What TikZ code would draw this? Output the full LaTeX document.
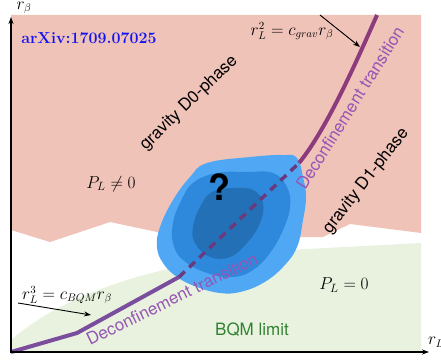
\documentclass[tikz,border=0pt]{standalone}
\usepackage{fontspec}
\setsansfont{TeX Gyre Heros}
\usetikzlibrary{arrows.meta}
\definecolor{pinkbg}{RGB}{240,195,185}
\definecolor{greenbg}{RGB}{232,242,223}
\definecolor{blobA}{RGB}{80,168,245}
\definecolor{blobB}{RGB}{46,137,220}
\definecolor{blobC}{RGB}{36,112,182}
\definecolor{lineup}{RGB}{140,59,124}
\definecolor{linelow}{RGB}{122,78,156}
\definecolor{linedash}{RGB}{107,58,126}
\definecolor{transtext}{RGB}{150,85,180}
\definecolor{bqmgreen}{RGB}{50,130,50}
\definecolor{arxivblue}{RGB}{20,20,240}
\tikzset{
  sflbl/.style={font=\sffamily\fontsize{17}{20}\selectfont, inner sep=0pt},
  mathlbl/.style={font=\fontsize{17}{20}\selectfont, inner sep=0pt},
  formlbl/.style={font=\fontsize{16}{19}\selectfont, inner sep=0pt},
  translbl/.style={sflbl, text=transtext},
  transline/.style={line width=4pt, line join=round},
  axisline/.style={line width=1.1pt, -{Stealth[length=7pt,width=5pt]}},
  pointer/.style={line width=0.9pt, -{Stealth[length=7pt,width=5pt]}},
}
\begin{document}
\begin{tikzpicture}[x=1pt,y=-1pt]
\useasboundingbox (0,0) rectangle (441,361);
% regions
\fill[pinkbg] (11,15) -- (421,15) -- (421,233) -- (350,224) -- (323,237) -- (287,237) -- (220,240) -- (157,232) -- (110,222) -- (50,242) -- (11,230) -- cycle;
\fill[greenbg] (11,352) -- (11,340) .. controls (60,298) and (140,265) .. (287,250) -- (421,243) -- (421,352) -- cycle;
% blob
\fill[blobA] plot[smooth cycle, tension=0.7] coordinates {(207,163) (250,157) (283,155) (297,158) (303,177) (306,197) (303,220) (297,247) (283,267) (263,283) (240,292) (220,293) (197,287) (177,277) (163,263) (157,247) (160,227) (173,200) (190,177)};
\fill[blobB] plot[smooth cycle, tension=0.7] coordinates {(193,183) (217,173) (247,172) (273,173) (287,187) (290,207) (283,230) (270,253) (253,270) (233,277) (207,273) (183,260) (173,243) (173,223) (180,203)};
\fill[blobC] plot[smooth cycle, tension=0.7] coordinates {(212,192) (233,188) (253,190) (263,203) (260,223) (247,243) (230,257) (210,257) (195,243) (193,227) (200,207)};
% transition line
\coordinate (o) at (11,352);
\coordinate (k) at (77,333);
\coordinate (bl) at (179,277);
\coordinate (bu) at (299,163);
\coordinate (top) at (377,15);
\draw[transline, linelow] (o) -- (k) -- (bl);
\draw[transline, linedash, line width=3.5pt, dash pattern=on 8pt off 6pt] (bl) -- (bu);
\draw[transline, lineup] (bu) .. controls (326,130) and (355,65) .. (top);
% axes
\coordinate (yend) at (11,17);
\coordinate (xend) at (429,352);
\coordinate (ybot) at (11,353);
\coordinate (xleft) at (10,352);
\draw[axisline] (ybot) -- (yend);
\draw[axisline] (xleft) -- (xend);
\node[formlbl] (ry) at (24,8) {$r_\beta$};
\node[formlbl] (rl) at (436,342) {$r_L$};
% labels
\node[font=\rmfamily\bfseries\fontsize{16}{19}\selectfont, text=arxivblue, inner sep=0pt] (arx) at (89,38) {arXiv:1709.07025};
\node[formlbl] (f1) at (292,31) {$r_L^2=c_{grav}r_\beta$};
\node[formlbl] (f2) at (67,295) {$r_L^3=c_{BQM}r_\beta$};
\coordinate (a1s) at (320,15);
\coordinate (a1e) at (360,47);
\coordinate (a2s) at (18,303);
\coordinate (a2e) at (91,315);
\draw[pointer] (a1s) -- (a1e);
\draw[pointer] (a2s) -- (a2e);
\node[sflbl, rotate=44] (d0) at (189,103) {gravity D0-phase};
\node[sflbl, rotate=52] (d1) at (366,181) {gravity D1-phase};
\node[translbl, rotate=58] (tu) at (350,108) {Deconfinement transition};
\node[translbl, rotate=26] (tl) at (172,299) {Deconfinement transition};
\node[mathlbl] (pn) at (111,184) {$P_L\neq 0$};
\node[mathlbl] (pz) at (344,285) {$P_L=0$};
\node[sflbl, text=bqmgreen] (bqm) at (252,330) {BQM limit};
\node[font=\sffamily\bfseries\fontsize{36}{40}\selectfont, inner sep=0pt] (q) at (219,187) {?};
\end{tikzpicture}
\end{document}
